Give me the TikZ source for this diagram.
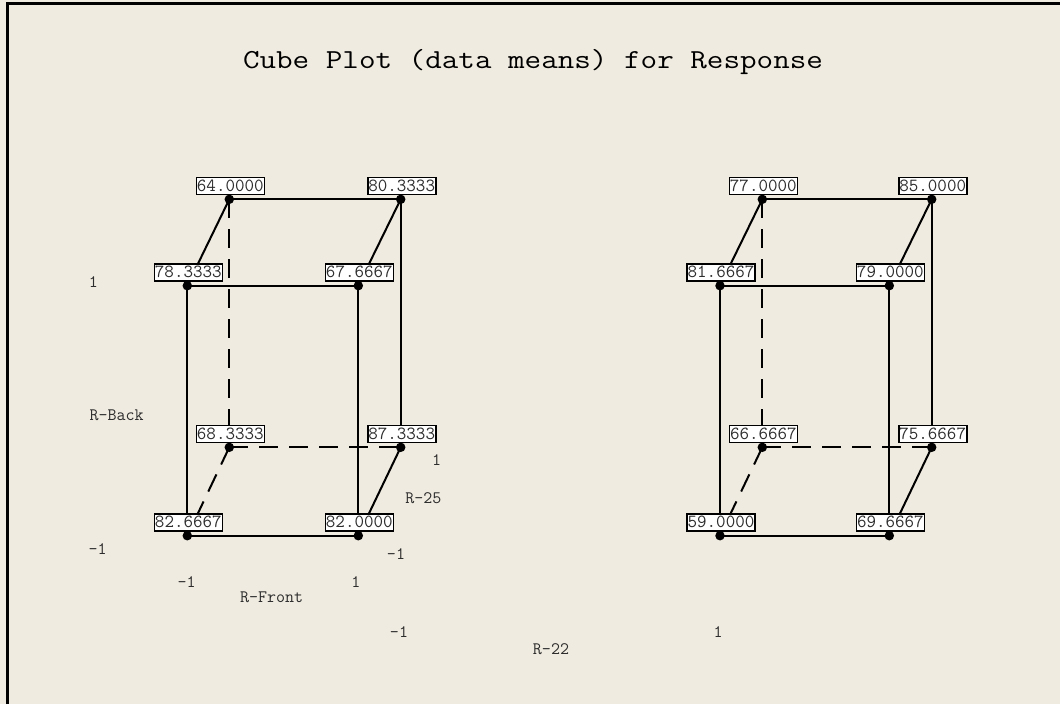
\documentclass[tikz,border=0pt]{standalone}
\usepackage{fontspec}
\usepackage{graphicx}
\definecolor{panel}{RGB}{240,235,224}
\definecolor{ink}{RGB}{45,45,45}
\tikzset{
  edge/.style={line width=2pt},
  hidden/.style={edge, dash pattern=on 19pt off 11pt},
  valbox/.style={draw, line width=1.6pt, fill=white, minimum width=68pt,
    minimum height=17pt, inner sep=0pt, text=ink,
    font=\ttfamily\fontsize{18.5}{18}\selectfont},
  corner/.style={circle, fill=black, inner sep=0pt, minimum size=9.5pt},
  lbl/.style={text=ink, inner sep=0pt, font=\ttfamily\fontsize{17.5}{18}\selectfont}
}
\begin{document}
\begin{tikzpicture}[x=1pt, y=-1pt]
  % canvas and frame
  \fill[panel] (0,0) rectangle (1060,704);
  \useasboundingbox (0,0) rectangle (1060,704);
  \coordinate (frameBL) at (7,704);
  \coordinate (frameTL) at (7,3);
  \coordinate (frameTR) at (1060,3);
  \draw[line width=3pt, line join=miter] (frameBL) -- (frameTL) -- (frameTR);

  % title
  \node[anchor=base, inner sep=0pt, font=\ttfamily\fontsize{27.5}{30}\selectfont]
    (title) at (533,68.3) {\scalebox{1.17}[1]{Cube Plot (data means) for Response}};

  % ---------- left cube: corner positions ----------
  \coordinate (a1) at (229.3,199.3); % back top left
  \coordinate (a2) at (400.7,199.3); % back top right
  \coordinate (a3) at (187.3,285.7); % front top left
  \coordinate (a4) at (358.3,285.7); % front top right
  \coordinate (a5) at (229.3,447.3); % back bottom left
  \coordinate (a6) at (400.7,447.3); % back bottom right
  \coordinate (a7) at (187.3,535.7); % front bottom left
  \coordinate (a8) at (358.3,535.7); % front bottom right

  % ---------- right cube: corner positions ----------
  \coordinate (b1) at (762.3,199.3);
  \coordinate (b2) at (931.7,199.3);
  \coordinate (b3) at (720.0,285.7);
  \coordinate (b4) at (889.3,285.7);
  \coordinate (b5) at (762.3,447.3);
  \coordinate (b6) at (931.7,447.3);
  \coordinate (b7) at (720.0,535.7);
  \coordinate (b8) at (889.3,535.7);

  % edges
  \foreach \c in {a,b}{
    \draw[edge] (\c1) -- (\c2);
    \draw[edge] (\c2) -- (\c6);
    \draw[edge] (\c1) -- (\c3);
    \draw[edge] (\c2) -- (\c4);
    \draw[edge] (\c3) -- (\c4);
    \draw[edge] (\c3) -- (\c7);
    \draw[edge] (\c4) -- (\c8);
    \draw[edge] (\c7) -- (\c8);
    \draw[edge] (\c6) -- (\c8);
    \draw[hidden] (\c1) -- (\c5);
    \draw[hidden] (\c5) -- (\c6);
    \draw[hidden] (\c5) -- (\c7);
  }

  % value boxes, left cube
  \node[valbox] (va1) at ([shift={(1,-13.5)}]a1) {64.0000};
  \node[valbox] (va2) at ([shift={(1,-13.5)}]a2) {80.3333};
  \node[valbox] (va3) at ([shift={(1,-13.5)}]a3) {78.3333};
  \node[valbox] (va4) at ([shift={(1,-13.5)}]a4) {67.6667};
  \node[valbox] (va5) at ([shift={(1,-13.5)}]a5) {68.3333};
  \node[valbox] (va6) at ([shift={(1,-13.5)}]a6) {87.3333};
  \node[valbox] (va7) at ([shift={(1,-13.5)}]a7) {82.6667};
  \node[valbox] (va8) at ([shift={(1,-13.5)}]a8) {82.0000};

  % value boxes, right cube
  \node[valbox] (vb1) at ([shift={(1,-13.5)}]b1) {77.0000};
  \node[valbox] (vb2) at ([shift={(1,-13.5)}]b2) {85.0000};
  \node[valbox] (vb3) at ([shift={(1,-13.5)}]b3) {81.6667};
  \node[valbox] (vb4) at ([shift={(1,-13.5)}]b4) {79.0000};
  \node[valbox] (vb5) at ([shift={(1,-13.5)}]b5) {66.6667};
  \node[valbox] (vb6) at ([shift={(1,-13.5)}]b6) {75.6667};
  \node[valbox] (vb7) at ([shift={(1,-13.5)}]b7) {59.0000};
  \node[valbox] (vb8) at ([shift={(1,-13.5)}]b8) {69.6667};

  % corner markers
  \foreach \c in {a,b}{
    \foreach \i in {1,...,8}{
      \node[corner] (m\c\i) at (\c\i) {};
    }
  }

  % factor levels and names
  \node[lbl] (backHi)   at (93.3,281.7)  {1};
  \node[lbl] (backName) at (116.7,415.7) {R-Back};
  \node[lbl] (backLo)   at (97.7,549.3)  {-1};
  \node[lbl] (frontLo)  at (186.7,582.3) {-1};
  \node[lbl] (frontHi)  at (356.0,582.3) {1};
  \node[lbl] (frontName) at (271.7,597.7) {R-Front};
  \node[lbl] (depHi)    at (436.7,460.0) {1};
  \node[lbl] (depName)  at (423.3,498.3) {R-25};
  \node[lbl] (depLo)    at (396.0,554.0) {-1};
  \node[lbl] (panLo)    at (399.0,632.0) {-1};
  \node[lbl] (panHi)    at (718.0,632.0) {1};
  \node[lbl] (panName)  at (551.0,649.0) {R-22};
\end{tikzpicture}
\end{document}
